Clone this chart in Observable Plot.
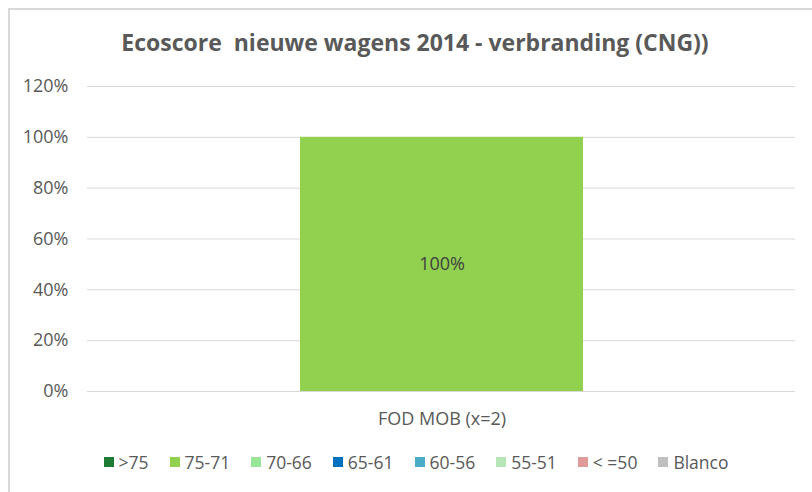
<!DOCTYPE html>
<html>
<head>
<meta charset="utf-8">
<script src="https://cdn.jsdelivr.net/npm/d3@7"></script>
<script src="https://cdn.jsdelivr.net/npm/@observablehq/plot@0.6"></script>
<style>
  html, body { margin: 0; padding: 0; background: #fff; }
  #wrap { position: relative; width: 812px; height: 492px; overflow: hidden; font-family: "Open Sans", sans-serif; }
  #frame { position: absolute; left: 8px; top: 8px; width: 830px; height: 510px; border: 2px solid #d9d9d9; box-sizing: border-box; }
  #title { position: absolute; left: 0; width: 830px; top: 27px; text-align: center; font-weight: bold; font-size: 23px; line-height: 30px; color: #595959; white-space: pre; }
  #chart { position: absolute; left: 0; top: 70px; }
  #legend { position: absolute; left: 0; width: 832px; top: 450px; display: flex; justify-content: center; gap: 21px; font-size: 17.5px; color: #595959; }
  .item { display: flex; align-items: center; gap: 5px; }
  .sw { width: 10px; height: 10px; display: inline-block; }
</style>
</head>
<body>
<div id="wrap">
  <div id="frame"></div>
  <div id="title"></div>
  <div id="chart"></div>
  <div id="legend"></div>
</div>
<script>
const title = "Ecoscore  nieuwe wagens 2014 - verbranding (CNG))";
const categories = ["FOD MOB (x=2)"];
const series = [">75", "75-71", "70-66", "65-61", "60-56", "55-51", "< =50", "Blanco"];
const colors = ["#1e7b34", "#92d050", "#99e699", "#0070c0", "#4bacc6", "#b6e6b6", "#e09a9a", "#c0c0c0"];
const values = [0, 1, 0, 0, 0, 0, 0, 0];
const yTicks = [0, 0.2, 0.4, 0.6, 0.8, 1.0, 1.2];

document.getElementById("title").textContent = title;

const rows = series.map((s, i) => ({cat: categories[0], series: s, value: values[i]}));
const pct = d3.format(".0%");

const chart = Plot.plot({
  width: 812,
  height: 370,
  marginLeft: 87,
  marginRight: 17,
  marginTop: 16,
  marginBottom: 49,
  style: {fontFamily: "Open Sans", fontSize: "18px", color: "#595959", background: "transparent"},
  x: {domain: categories, padding: 0.4286, label: null, tickSize: 0, tickPadding: 21},
  y: {domain: [0, 1.2], ticks: yTicks, tickFormat: pct, label: null, tickSize: 0, tickPadding: 19},
  color: {domain: series, range: colors},
  marks: [
    Plot.gridY(yTicks, {stroke: "#d9d9d9", strokeOpacity: 1}),
    Plot.barY(rows, Plot.stackY({x: "cat", y: "value", fill: "series", z: "series", order: series})),
    Plot.text(rows, Plot.stackY({
      filter: d => d.value > 0,
      x: "cat", y: "value", z: "series", order: series,
      text: d => pct(d.value),
      fill: "#404040", fontSize: 18
    }))
  ]
});
document.getElementById("chart").appendChild(chart);

const legend = document.getElementById("legend");
series.forEach((s, i) => {
  const item = document.createElement("div");
  item.className = "item";
  const sw = document.createElement("span");
  sw.className = "sw";
  sw.style.background = colors[i];
  const t = document.createElement("span");
  t.textContent = s;
  item.appendChild(sw);
  item.appendChild(t);
  legend.appendChild(item);
});
</script>
</body>
</html>
